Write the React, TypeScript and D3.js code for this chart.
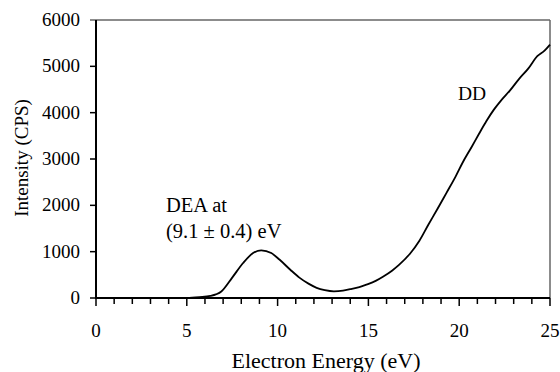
import React from 'react';
import * as d3 from 'd3';

// Electron energy (eV) and intensity (CPS)
const energy = [0, 1, 2, 3, 4, 5, 5.7, 6.3, 6.9, 7.5, 8.1, 8.65, 9.1, 9.65, 10.1, 10.7, 11.2, 11.7, 12.15, 12.6, 13.1, 13.6, 14.0, 14.5, 14.9, 15.4, 15.8, 16.3, 16.7, 17.3, 17.8, 18.3, 18.8, 19.3, 19.8, 20.2, 20.7, 21.1, 21.5, 21.9, 22.3, 22.8, 23.3, 23.8, 24.3, 24.7, 25.0];
const intensity = [0, 0, 0, 0, 0, 3, 20, 45, 140, 440, 755, 970, 1030, 970, 830, 610, 440, 310, 220, 170, 145, 160, 190, 235, 290, 370, 460, 590, 720, 960, 1230, 1580, 1920, 2270, 2620, 2930, 3270, 3550, 3820, 4060, 4260, 4480, 4730, 4950, 5220, 5340, 5470];

const xTicks = [0, 5, 10, 15, 20, 25];
const xMinorTicks = d3.range(0, 26, 1);
const yTicks = [0, 1000, 2000, 3000, 4000, 5000, 6000];

const W = 560;
const H = 372;
const left = 96;
const right = 550;
const top = 20;
const bottom = 298;
const family = '"Liberation Serif", "Times New Roman", Tinos, FreeSerif, "Nimbus Roman"';
const serif = { fontFamily: family };

export default function App() {
  const x = d3.scaleLinear().domain([0, 25]).range([left, right]);
  const y = d3.scaleLinear().domain([0, 6000]).range([bottom, top]);

  const pts: [number, number][] = energy.map((e, i) => [e, intensity[i]]);
  const line = d3
    .line<[number, number]>()
    .x(d => x(d[0]))
    .y(d => y(d[1]))
    .curve(d3.curveMonotoneX);

  return (
    <svg width={W} height={H} style={{ position: 'absolute', left: 0, top: 0, background: '#fff' }}>
      <style>{`text { font-family: ${family}; fill: #000; }`}</style>

      {/* frame: top and right in gray */}
      <line x1={left} x2={right} y1={top} y2={top} stroke="#666" strokeWidth={1.5} />
      <line x1={right} x2={right} y1={top} y2={bottom} stroke="#666" strokeWidth={1.5} />

      {/* y ticks and labels */}
      {yTicks.map(t => (
        <g key={t}>
          <line x1={left - 6} x2={left} y1={y(t)} y2={y(t)} stroke={t === 6000 ? '#666' : '#000'} strokeWidth={1.5} />
          <text x={80} y={y(t) + 6} fontSize={19} textAnchor="end" style={serif}>
            {t}
          </text>
        </g>
      ))}

      {/* x ticks */}
      {xMinorTicks.map(t => (
        <line
          key={t}
          x1={x(t)}
          x2={x(t)}
          y1={bottom}
          y2={bottom + (t % 5 === 0 ? 8 : 6)}
          stroke="#000"
          strokeWidth={1.5}
        />
      ))}
      {xTicks.map(t => (
        <text key={t} x={x(t)} y={337} fontSize={19} textAnchor="middle" style={serif}>
          {t}
        </text>
      ))}

      {/* axes */}
      <line x1={left} x2={left} y1={top} y2={bottom + 1} stroke="#000" strokeWidth={2} />
      <line x1={left} x2={right} y1={bottom} y2={bottom} stroke="#000" strokeWidth={2} />

      {/* data */}
      <path d={line(pts) ?? ''} fill="none" stroke="#000" strokeWidth={1.8} />

      {/* annotations */}
      <text x={166} y={212} fontSize={20.5} style={serif}>DEA at</text>
      <text x={166} y={238} fontSize={20.5} style={serif}>(9.1 ± 0.4) eV</text>
      <text x={458} y={100} fontSize={19.5} style={serif}>DD</text>

      {/* axis titles */}
      <text x={326} y={368} fontSize={22} textAnchor="middle" style={serif}>
        Electron Energy (eV)
      </text>
      <text transform="translate(28,158) rotate(-90)" fontSize={19} textAnchor="middle" style={serif}>
        Intensity (CPS)
      </text>
    </svg>
  );
}
